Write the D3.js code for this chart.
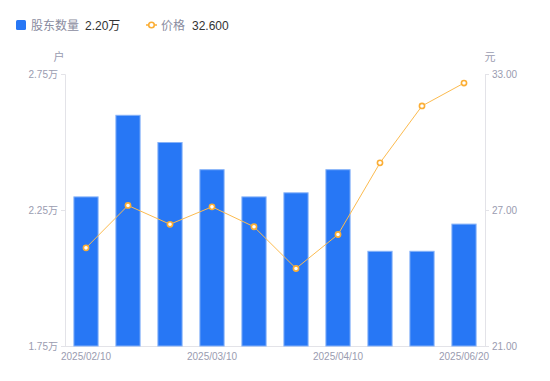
<!DOCTYPE html>
<html><head><meta charset="utf-8">
<script src="https://cdn.jsdelivr.net/npm/d3@7/dist/d3.min.js"></script>
<style>
html,body{margin:0;padding:0;background:#fff;}
text{font-family:"Liberation Sans","Noto Sans CJK SC",sans-serif;}
</style></head>
<body><svg id="c" width="550" height="381"></svg>
<script>
const categories = ["2025/02/10","2025/02/20","2025/02/28","2025/03/10","2025/03/20","2025/03/31","2025/04/10","2025/04/30","2025/05/31","2025/06/20"];
const holders = [2.30, 2.60, 2.50, 2.40, 2.30, 2.315, 2.40, 2.10, 2.10, 2.20]; // 万户
const price = [25.33, 27.20, 26.37, 27.14, 26.26, 24.42, 25.92, 29.08, 31.59, 32.60];
const leftTicks = [1.75, 2.25, 2.75];
const rightTicks = [21, 27, 33];
const shownLabels = ["2025/02/10","2025/03/10","2025/04/10","2025/06/20"];

const svg = d3.select("#c");
const L = 65, R = 485, T = 74, B = 346;
const x = d3.scaleBand().domain(categories).range([L, R]).paddingInner(0.4).paddingOuter(0.2);
const yL = d3.scaleLinear().domain([1.75, 2.75]).range([B, T]);
const yR = d3.scaleLinear().domain([21, 33]).range([B, T]);
const grey = "#e3e3e8", labelCol = "#9a9cb0";

// axes
const axL = svg.append("g").attr("transform", `translate(${L},0)`)
  .call(d3.axisLeft(yL).tickValues(leftTicks).tickSize(4).tickPadding(3).tickFormat(d => d3.format(".2f")(d) + "万"));
const axR = svg.append("g").attr("transform", `translate(${R},0)`)
  .call(d3.axisRight(yR).tickValues(rightTicks).tickSize(4).tickPadding(3).tickFormat(d3.format(".2f")));
const axB = svg.append("g").attr("transform", `translate(0,${B})`)
  .call(d3.axisBottom(x).tickValues(shownLabels).tickSize(0).tickPadding(7));
[axL, axR, axB].forEach(a => {
  a.selectAll("path.domain").attr("stroke", grey);
  a.selectAll("line").attr("stroke", grey);
  a.selectAll("text").attr("fill", labelCol).attr("font-size", 10);
});
axB.select("path.domain").attr("d", `M${L},0.5H${R}`);
axB.selectAll(".tick text").attr("text-anchor", "middle");

svg.append("text").attr("x", 59).attr("y", 61).attr("text-anchor", "middle").attr("fill", labelCol).attr("font-size", 11).text("户");
svg.append("text").attr("x", 490).attr("y", 61).attr("text-anchor", "middle").attr("fill", labelCol).attr("font-size", 11).text("元");

// bars
svg.append("g").selectAll("rect").data(categories).join("rect")
  .attr("x", d => x(d) + 0.5)
  .attr("y", (d, i) => yL(holders[i]) + 0.5)
  .attr("width", x.bandwidth() - 1)
  .attr("height", (d, i) => B - yL(holders[i]) - 0.5)
  .attr("fill", "#2777f5").attr("stroke", "#86b2f8").attr("stroke-width", 1);

// line
const cx = d => x(d) + x.bandwidth() / 2;
svg.append("path").datum(categories)
  .attr("d", d3.line().x(d => cx(d)).y((d, i) => yR(price[i])))
  .attr("fill", "none").attr("stroke", "#fcbb4f").attr("stroke-width", 1);
svg.append("g").selectAll("circle").data(categories).join("circle")
  .attr("cx", d => cx(d)).attr("cy", (d, i) => yR(price[i])).attr("r", 2.6)
  .attr("fill", "#fff").attr("stroke", "#fbae35").attr("stroke-width", 1.6);

// legend
svg.append("rect").attr("x", 16).attr("y", 20).attr("width", 10).attr("height", 10).attr("rx", 1.5).attr("fill", "#2777f5");
svg.append("text").attr("x", 31).attr("y", 29.5).attr("font-size", 12).attr("fill", "#8a8ca0").text("股东数量");
svg.append("text").attr("x", 85).attr("y", 29.5).attr("font-size", 12).attr("fill", "#333").text(d3.format(".2f")(holders[holders.length-1]) + "万");
svg.append("line").attr("x1", 146).attr("x2", 157).attr("y1", 25).attr("y2", 25).attr("stroke", "#fbae35").attr("stroke-width", 1.5);
svg.append("circle").attr("cx", 151.5).attr("cy", 25).attr("r", 2.8).attr("fill", "#fff").attr("stroke", "#fbae35").attr("stroke-width", 1.6);
svg.append("text").attr("x", 161).attr("y", 29.5).attr("font-size", 12).attr("fill", "#8a8ca0").text("价格");
svg.append("text").attr("x", 192).attr("y", 29.5).attr("font-size", 12).attr("fill", "#333").text(d3.format(".3f")(price[price.length-1]));
</script></body></html>
